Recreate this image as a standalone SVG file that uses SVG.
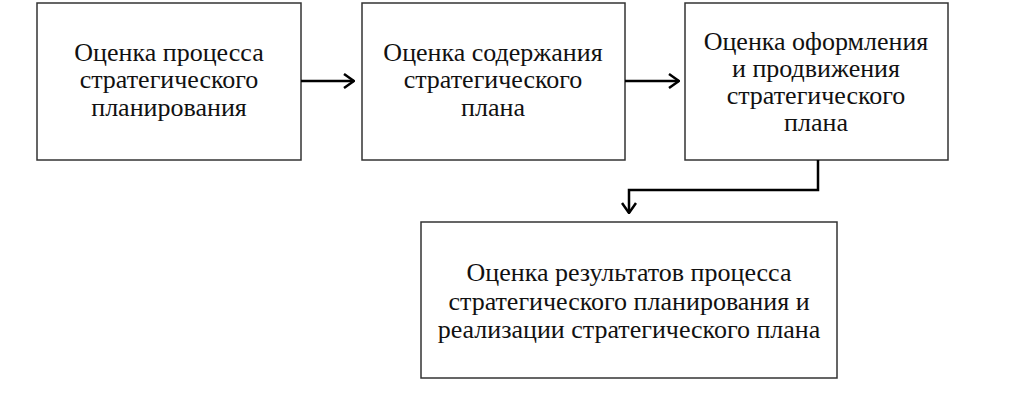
<svg xmlns="http://www.w3.org/2000/svg" width="1024" height="416" viewBox="0 0 1024 416">
<defs>
<style>
.box{fill:#fff;stroke:#333;stroke-width:1.5}
.t{font-family:"Liberation Serif","Times New Roman",serif;font-size:26px;fill:#111;text-anchor:middle}
.c{fill:none;stroke:#000;stroke-width:2.5}
</style>
<marker id="ah" markerWidth="12" markerHeight="16" refX="11" refY="8" orient="auto" markerUnits="userSpaceOnUse">
<path d="M1,1 L11,8 L1,15" fill="none" stroke="#000" stroke-width="2.5"/>
</marker>
</defs>
<rect width="1024" height="416" fill="#fff"/>
<g id="n1">
<rect class="box" x="37" y="3" width="264" height="157"/>
<text class="t" x="169" y="61">Оценка процесса</text>
<text class="t" x="169" y="88">стратегического</text>
<text class="t" x="169" y="116">планирования</text>
</g>
<g id="n2">
<rect class="box" x="362" y="3" width="263" height="157"/>
<text class="t" x="493" y="61">Оценка содержания</text>
<text class="t" x="493" y="88">стратегического</text>
<text class="t" x="493" y="116">плана</text>
</g>
<g id="n3">
<rect class="box" x="685" y="3" width="263" height="157"/>
<text class="t" x="816" y="50">Оценка оформления</text>
<text class="t" x="816" y="77">и продвижения</text>
<text class="t" x="816" y="104">стратегического</text>
<text class="t" x="816" y="131">плана</text>
</g>
<g id="n4">
<rect class="box" x="421" y="222" width="416" height="156"/>
<text class="t" x="629" y="281">Оценка результатов процесса</text>
<text class="t" x="629" y="310">стратегического планирования и</text>
<text class="t" x="629" y="338">реализации стратегического плана</text>
</g>
<g id="connectors">
<path class="c" d="M301,81 H354" marker-end="url(#ah)"/>
<path class="c" d="M625,81 H679" marker-end="url(#ah)"/>
<path class="c" d="M818,160 V190 H629 V213" marker-end="url(#ah)"/>
</g>
</svg>
